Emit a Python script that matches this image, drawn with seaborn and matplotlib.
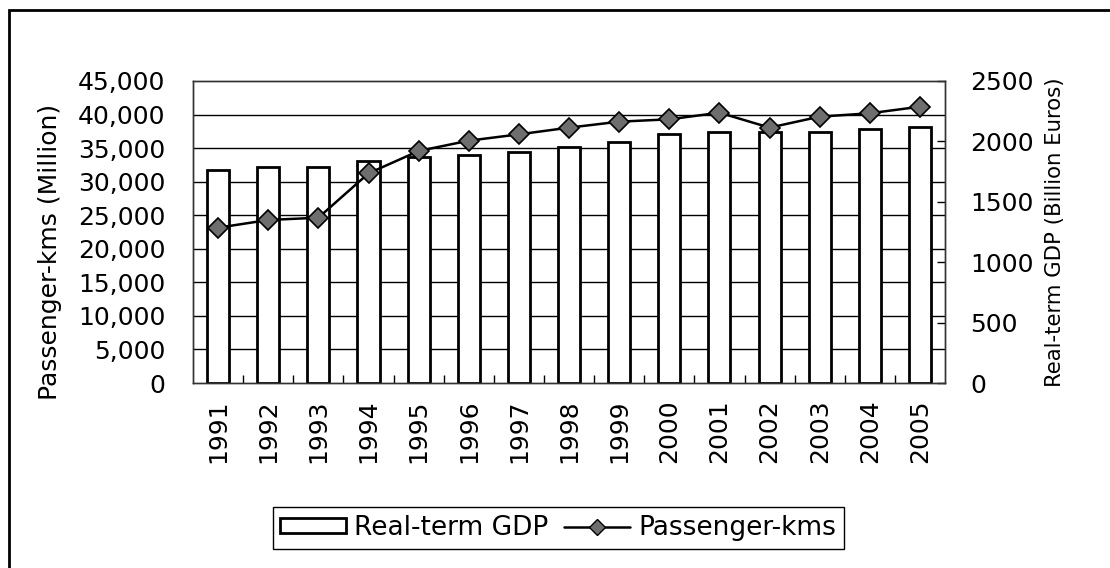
import numpy as np
import pandas as pd
import matplotlib
matplotlib.use("Agg")
import matplotlib.pyplot as plt
import seaborn as sns
from matplotlib.patches import Patch, Rectangle
from matplotlib.lines import Line2D

years = ["1991", "1992", "1993", "1994", "1995", "1996", "1997", "1998",
         "1999", "2000", "2001", "2002", "2003", "2004", "2005"]
gdp = [1763, 1791, 1791, 1838, 1868, 1887, 1915, 1956,
       1992, 2061, 2078, 2078, 2078, 2100, 2117]
pkm = [23140, 24290, 24630, 31240, 34570, 36110, 37050, 38050,
       38940, 39290, 40280, 38050, 39690, 40190, 41170]
left_ticks = [0, 5000, 10000, 15000, 20000, 25000, 30000, 35000, 40000, 45000]
right_ticks = [0, 500, 1000, 1500, 2000, 2500]

df = pd.DataFrame({"year": years, "gdp": gdp, "pkm": pkm})

sns.set_theme(style="white")
plt.rcParams["font.family"] = ["DejaVu Sans"]
for k in ("text.color", "axes.labelcolor", "xtick.color", "ytick.color"):
    plt.rcParams[k] = "black"

fig = plt.figure(figsize=(11.1, 5.68), dpi=100)
ax = fig.add_axes([0.1739, 0.3257, 0.6775, 0.5317])

# grid lines (at left-axis steps) drawn on bar axis, below bars
ax.set_ylim(0, 2500)
ax.set_yticks(np.linspace(0, 2500, 10), minor=True)
ax.grid(which="minor", axis="y", color="black", linewidth=1.0)
ax.set_axisbelow(True)

sns.barplot(data=df, x="year", y="gdp", ax=ax, color="white",
            edgecolor="black", linewidth=2.0, width=0.44, saturation=1,
            zorder=2)

ax2 = ax.twinx()
sns.pointplot(data=df, x="year", y="pkm", ax=ax2, color="black",
              markers="D", linestyles="-", markersize=10,
              markerfacecolor="#6e6e6e", markeredgecolor="black",
              markeredgewidth=1.2, linewidth=1.8)

# bar axis -> right side
ax.set_ylim(0, 2500)
ax.set_xlim(-0.5, len(years) - 0.5)
ax.yaxis.tick_right()
ax.yaxis.set_label_position("right")
ax.set_yticks(right_ticks)
ax.set_yticklabels([str(v) for v in right_ticks], fontsize=18)
ax.tick_params(axis="y", which="major", direction="in", length=6,
               width=1, color="black", pad=18, right=True, left=False,
               labelright=True, labelleft=False)
ax.tick_params(axis="y", which="minor", length=0)
ax.set_ylabel("Real-term GDP (Billion Euros)", fontsize=15.3, labelpad=8)
ax.set_xlabel("")
ax.set_xticks(range(len(years)))
ax.set_xticklabels(years, rotation=90, fontsize=18)
ax.tick_params(axis="x", which="major", length=0, pad=12)
ax.set_xticks(np.arange(0.5, len(years) - 0.5, 1), minor=True)
ax.tick_params(axis="x", which="minor", direction="in", length=6,
               width=1, color="black", bottom=True)

# line axis -> left side
ax2.set_ylim(0, 45000)
ax2.set_xlim(-0.5, len(years) - 0.5)
ax2.yaxis.tick_left()
ax2.yaxis.set_label_position("left")
ax2.set_yticks(left_ticks)
ax2.set_yticklabels([f"{v:,}" for v in left_ticks], fontsize=18)
ax2.tick_params(axis="y", length=0, pad=20, left=True, right=False,
                labelleft=True, labelright=False)
ax2.set_ylabel("Passenger-kms (Million)", fontsize=18)
ax2.yaxis.set_label_coords(-0.174, 0.435)
ax2.set_xlabel("")
ax2.grid(False)

for a in (ax, ax2):
    for s in a.spines.values():
        s.set_color("#333333")
        s.set_linewidth(1.0)

handles = [Patch(facecolor="white", edgecolor="black", linewidth=2.0),
           Line2D([0], [0], color="black", linewidth=1.8, marker="D",
                  markersize=8, markerfacecolor="#6e6e6e",
                  markeredgecolor="black")]
leg = fig.legend(handles, ["Real-term GDP", "Passenger-kms"],
                 loc="center", bbox_to_anchor=(0.503, 0.070), ncol=2,
                 fontsize=19, frameon=True, fancybox=False, shadow=False,
                 handlelength=2.5, handleheight=0.5, handletextpad=0.3,
                 columnspacing=0.6, borderpad=0.3, edgecolor="black",
                 framealpha=1)
leg.get_frame().set_linewidth(1.0)

# outer frame (cropped on right / bottom as in the scan)
fig.patches.append(Rectangle((9 / 1110, -0.1), 1.2, (568 - 10) / 568 + 0.1,
                             transform=fig.transFigure, fill=False,
                             edgecolor="black", linewidth=2.0))

fig.savefig("out.png", dpi=100, facecolor="white")
